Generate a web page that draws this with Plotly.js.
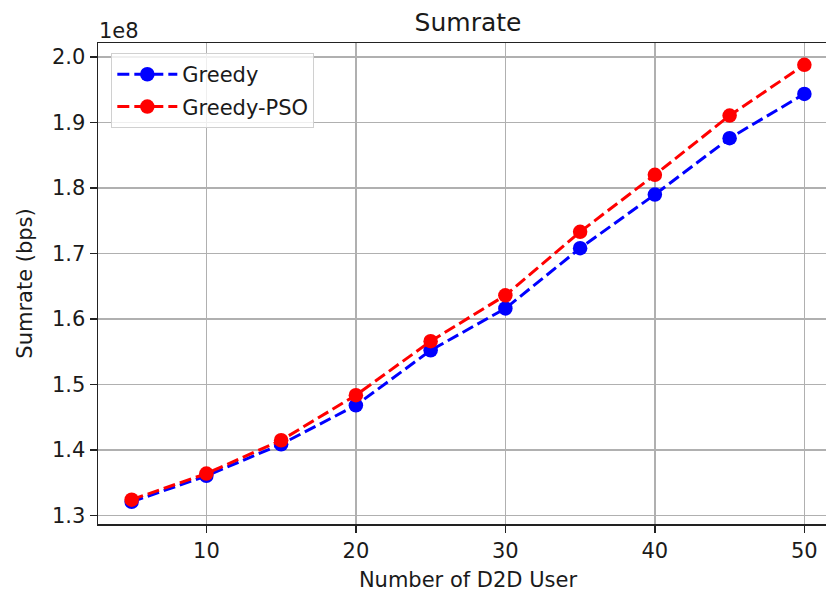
<!DOCTYPE html>
<html>
<head>
<meta charset="utf-8">
<script src="https://cdn.plot.ly/plotly-3.0.1.min.js"></script>
<style>
html,body{margin:0;padding:0;overflow:hidden;background:#fff;}
#chart{width:838px;height:592px;}
</style>
</head>
<body>
<div id="chart"></div>
<script>
// Data (Sumrate in bps)
const users = [5, 10, 15, 20, 25, 30, 35, 40, 45, 50];
const greedy = [1.3206e8, 1.3604e8, 1.4086e8, 1.4680e8, 1.5520e8, 1.6160e8, 1.7080e8, 1.7900e8, 1.8760e8, 1.9437e8];
const greedyPSO = [1.3240e8, 1.3638e8, 1.4147e8, 1.4835e8, 1.5660e8, 1.6360e8, 1.7330e8, 1.8200e8, 1.9106e8, 1.9880e8];
const xTicks = [10, 20, 30, 40, 50];
const yTickVals = [1.3e8, 1.4e8, 1.5e8, 1.6e8, 1.7e8, 1.8e8, 1.9e8, 2.0e8];
const yTickText = ["1.3", "1.4", "1.5", "1.6", "1.7", "1.8", "1.9", "2.0"];

const FONT = "DejaVu Sans, sans-serif";
const TXT = "#1a1a1a";

const traces = [
  {
    x: users, y: greedy, name: "Greedy", type: "scatter", mode: "lines+markers",
    line: {color: "#0000ff", width: 3, dash: "12px,5px"},
    marker: {color: "#0000ff", size: 14.5},
    legendgroup: "g1"
  },
  {
    x: users, y: greedyPSO, name: "Greedy-PSO", type: "scatter", mode: "lines+markers",
    line: {color: "#ff0000", width: 3, dash: "12px,5px"},
    marker: {color: "#ff0000", size: 14.5},
    legendgroup: "g2"
  }
];

const layout = {
  width: 838, height: 592,
  margin: {l: 98, r: 0, t: 43, b: 68, pad: 0},
  paper_bgcolor: "#ffffff", plot_bgcolor: "#ffffff",
  font: {family: FONT, size: 21, color: TXT},
  title: {
    text: "Sumrate", font: {family: FONT, size: 25, color: TXT},
    x: 0.5, xref: "paper", xanchor: "center",
    y: 1, yref: "paper", yanchor: "bottom", pad: {b: 12}
  },
  xaxis: {
    range: [2.75, 52.25], tickvals: xTicks, ticks: "outside", ticklen: 7, tickwidth: 1.5,
    tickcolor: "#222", showline: true, linecolor: "#222", linewidth: 1.5, mirror: true,
    showgrid: true, gridcolor: "#b0b0b0", gridwidth: 1.5, zeroline: false,
    tickfont: {family: FONT, size: 21, color: TXT},
    title: {text: "Number of D2D User", font: {family: FONT, size: 21, color: TXT}, standoff: 11}
  },
  yaxis: {
    range: [1.2868e8, 2.0214e8], tickvals: yTickVals, ticktext: yTickText, ticks: "outside",
    ticklen: 7, tickwidth: 1.5, tickcolor: "#222", showline: true, linecolor: "#222", linewidth: 1.5,
    showgrid: true, gridcolor: "#b0b0b0", gridwidth: 1.5, zeroline: false,
    tickfont: {family: FONT, size: 21, color: TXT},
    title: {text: "Sumrate (bps)", font: {family: FONT, size: 21, color: TXT}, standoff: 13}
  },
  legend: {
    x: 0.018, y: 0.979, xanchor: "left", yanchor: "top",
    bgcolor: "rgba(255,255,255,0.8)", bordercolor: "#d0d0d0", borderwidth: 1,
    font: {family: FONT, size: 21, color: TXT}, traceorder: "grouped", tracegroupgap: 2,
    itemwidth: 60
  },
  annotations: [{
    text: "1e8", xref: "paper", yref: "paper", x: 0, y: 1, xanchor: "left", yanchor: "bottom",
    showarrow: false, font: {family: FONT, size: 21, color: TXT}, yshift: -2, xshift: -1
  }],
  showlegend: true
};

Plotly.newPlot("chart", traces, layout, {displayModeBar: false, staticPlot: true});
</script>
</body>
</html>
